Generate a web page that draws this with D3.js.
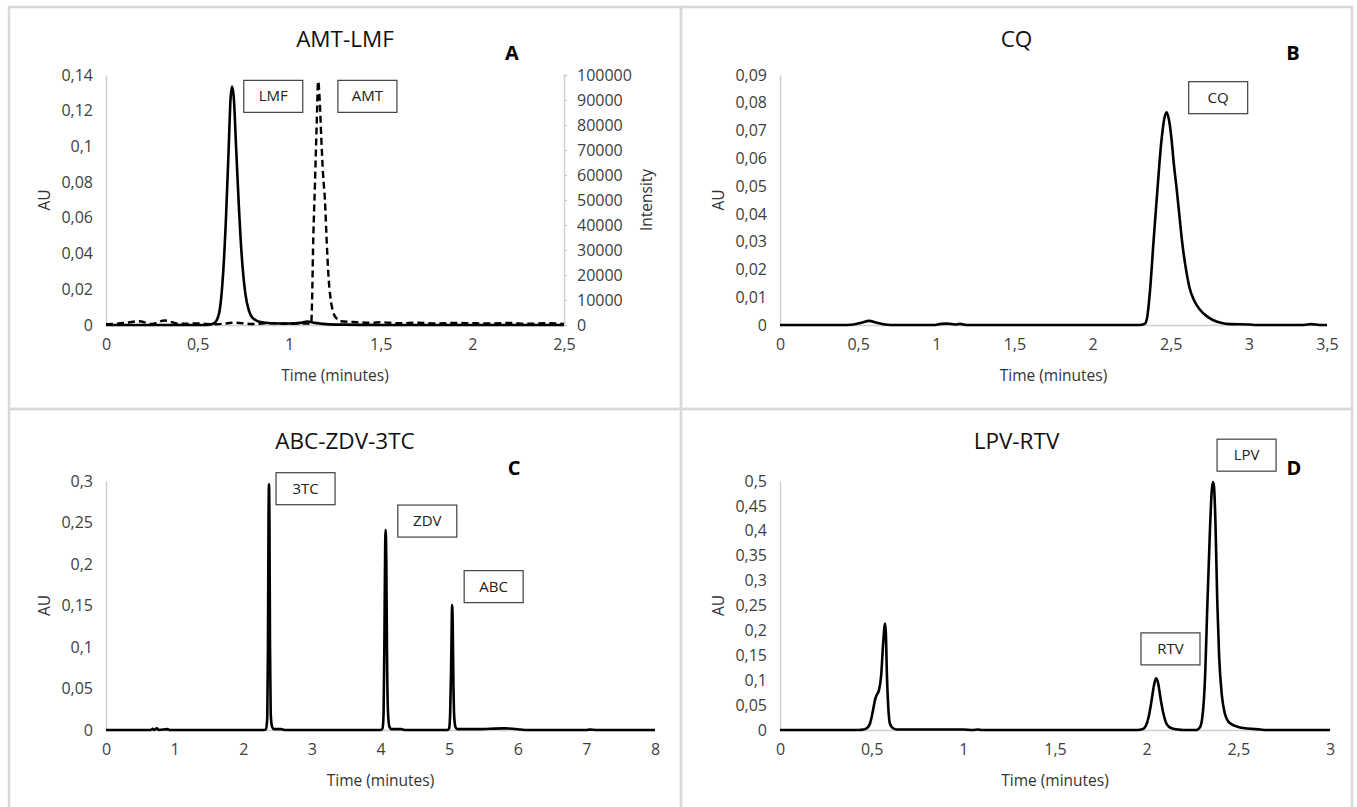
<!DOCTYPE html>
<html>
<head>
<meta charset="utf-8">
<script src="https://cdn.jsdelivr.net/npm/d3@7"></script>
<style>
  body { margin: 0; background: #fff; }
  text { font-family: "Open Sans", "DejaVu Sans", sans-serif; }
  .tick text { font-size: 16px; fill: #404040; }
  .domain { stroke: #d0d0d0; stroke-width: 1.5; }
  .tick line { stroke: #c8c8c8; }
</style>
</head>
<body>
<script>

/*
 * chromatogram traces: [time (min), AU]
 */
var lmfTrace = [
  [0,0],[0.3,0],[0.55,0],[0.58,0.0005],[0.6,0.002],[0.62,0.008],[0.64,0.03],[0.655,0.06],
  [0.67,0.1],[0.68,0.127],[0.688,0.1335],[0.697,0.128],[0.71,0.1],[0.725,0.067],[0.74,0.04],
  [0.76,0.018],[0.78,0.008],[0.8,0.004],[0.85,0.0015],[0.9,0.001],[1.0,0.0008],[1.06,0.0012],
  [1.1,0.002],[1.14,0.0012],[1.2,0.0005],[1.3,0.0002],[1.5,0],[2.5,0]
];
// AMT is on the right axis (intensity)
var amtTrace = [
  [0,300],[0.1,800],[0.18,1500],[0.25,400],[0.32,1800],[0.4,500],[0.5,600],[0.6,300],[0.7,900],
  [0.8,400],[0.9,700],[1.0,500],[1.08,600],[1.12,500],[1.125,10000],[1.13,30000],[1.14,55000],
  [1.15,80000],[1.158,97500],[1.165,92000],[1.175,75000],[1.185,60000],[1.195,50000],[1.205,33000],
  [1.214,20000],[1.225,11000],[1.241,5000],[1.26,2500],[1.28,1500],[1.35,1200],[1.4,1000],[1.45,900],
  [1.5,1100],[1.6,700],[1.7,900],[1.8,600],[1.9,800],[2.0,700],[2.1,600],[2.2,800],[2.3,500],
  [2.4,700],[2.5,400]
];
var cqTrace = [
  [0,0],[0.4,0],[0.47,0.0002],[0.52,0.0008],[0.57,0.0015],[0.62,0.0008],[0.67,0.0002],[0.75,0],
  [0.98,0],[1.03,0.0004],[1.07,0.0005],[1.12,0.0002],[1.15,0.0004],[1.2,0],[2.3,0],[2.335,0.0005],
  [2.35,0.003],[2.367,0.012],[2.39,0.03],[2.414,0.048],[2.44,0.066],[2.458,0.074],[2.474,0.0766],
  [2.49,0.0735],[2.505,0.067],[2.52,0.058],[2.54,0.048],[2.558,0.038],[2.575,0.029],[2.595,0.021],
  [2.62,0.0135],[2.65,0.0088],[2.687,0.0055],[2.73,0.0032],[2.77,0.0018],[2.82,0.0008],[2.88,0.0003],
  [3.0,0.0002],[3.05,0],[3.35,0],[3.4,0.0003],[3.45,0],[3.5,0]
];
var abcZdv3tcTrace = [
  [0,0],[0.65,0],[0.68,0.0015],[0.7,0],[0.74,0.002],[0.77,0],[0.9,0.001],[0.93,0],[2.3,0],
  [2.33,0.001],[2.35,0.015],[2.36,0.1],[2.368,0.25],[2.375,0.296],[2.382,0.25],[2.39,0.1],[2.4,0.02],
  [2.42,0.004],[2.45,0.001],[2.55,0.001],[2.6,0],[4.0,0],[4.03,0.002],[4.045,0.02],[4.058,0.12],
  [4.068,0.22],[4.076,0.241],[4.085,0.2],[4.095,0.09],[4.11,0.02],[4.13,0.004],[4.16,0.001],
  [4.3,0.001],[4.35,0],[4.98,0],[5.0,0.002],[5.015,0.02],[5.028,0.07],[5.038,0.13],[5.044,0.1506],
  [5.052,0.13],[5.062,0.06],[5.075,0.015],[5.095,0.003],[5.12,0.001],[5.4,0.001],[5.8,0.002],
  [6.0,0.001],[6.1,0],[7.0,0],[7.05,0.0005],[7.15,0],[8,0]
];
var lpvRtvTrace = [
  [0,0],[0.43,0],[0.455,0.001],[0.475,0.004],[0.491,0.013],[0.505,0.035],[0.518,0.06],[0.527,0.07],
  [0.54,0.08],[0.552,0.11],[0.562,0.17],[0.573,0.214],[0.578,0.19],[0.582,0.127],[0.59,0.05],
  [0.6,0.012],[0.615,0.004],[0.637,0.001],[0.7,0.001],[1.0,0.001],[1.05,0],[1.08,0.001],[1.1,0],
  [1.95,0],[1.98,0.002],[1.995,0.008],[2.01,0.025],[2.025,0.055],[2.04,0.09],[2.051,0.104],
  [2.062,0.095],[2.075,0.065],[2.09,0.035],[2.105,0.015],[2.12,0.007],[2.14,0.003],[2.17,0.001],
  [2.2,0],[2.27,0],[2.29,0.005],[2.305,0.03],[2.32,0.12],[2.33,0.24],[2.345,0.4],[2.355,0.48],
  [2.361,0.498],[2.367,0.49],[2.375,0.42],[2.385,0.26],[2.395,0.15],[2.41,0.07],[2.425,0.035],
  [2.45,0.015],[2.5,0.006],[2.55,0.003],[2.62,0.001],[2.65,0],[3,0]
];

/*
 * tick labels
 */
var xTicksA = [0, 0.5, 1, 1.5, 2, 2.5];
var yTicksA = [0, 0.02, 0.04, 0.06, 0.08, 0.1, 0.12, 0.14];
var intensityTicks = [0, 10000, 20000, 30000, 40000, 50000, 60000, 70000, 80000, 90000, 100000];
var xTicksB = [0, 0.5, 1, 1.5, 2, 2.5, 3, 3.5];
var yTicksB = [0, 0.01, 0.02, 0.03, 0.04, 0.05, 0.06, 0.07, 0.08, 0.09];
var xTicksC = [0, 1, 2, 3, 4, 5, 6, 7, 8];
var yTicksC = [0, 0.05, 0.1, 0.15, 0.2, 0.25, 0.3];
var xTicksD = [0, 0.5, 1, 1.5, 2, 2.5, 3];
var yTicksD = [0, 0.05, 0.1, 0.15, 0.2, 0.25, 0.3, 0.35, 0.4, 0.45, 0.5];

/*
 * peak name boxes, anchored at the top left corner [time, AU]
 */
var peakLabelsA = [{name: "LMF", t: 0.752, v: 0.137}, {name: "AMT", t: 1.266, v: 0.137}];
var peakLabelsB = [{name: "CQ", t: 2.615, v: 0.0876}];
var peakLabelsC = [{name: "3TC", t: 2.478, v: 0.31}, {name: "ZDV", t: 4.252, v: 0.271}, {name: "ABC", t: 5.219, v: 0.192}];
var peakLabelsD = [{name: "LPV", t: 2.384, v: 0.584}, {name: "RTV", t: 1.969, v: 0.195}];

var panelTitles = ["AMT-LMF", "CQ", "ABC-ZDV-3TC", "LPV-RTV"];
var panelLetters = ["A", "B", "C", "D"];

function comma(v) { return String(v).replace(".", ","); }

var svg = d3.select("body").append("svg")
    .attr("width", 1357)
    .attr("height", 807);

function drawPanel(p) {
	// chart area border
	svg.append("rect")
		.attr("x", p.box[0]).attr("y", p.box[1])
		.attr("width", p.box[2]).attr("height", p.box[3])
		.attr("fill", "none")
		.attr("stroke", "#d9d9d9")
		.attr("stroke-width", 2.5);

	var x = d3.scaleLinear().domain([0, d3.max(p.xTicks)]).range([p.left, p.right]);
	var y = d3.scaleLinear().domain([0, d3.max(p.yTicks)]).range([p.bottom, p.top]);

	var g = svg.append("g");

	g.append("g")
		.attr("transform", "translate(0," + p.bottom + ")")
		.call(d3.axisBottom(x).tickValues(p.xTicks).tickSize(0).tickPadding(14).tickFormat(comma));

	g.append("g")
		.attr("transform", "translate(" + p.left + ",0)")
		.call(d3.axisLeft(y).tickValues(p.yTicks).tickSize(0).tickPadding(13).tickFormat(comma));

	// titles
	var cx = p.box[0] + p.box[2] / 2;
	g.append("text").text(p.title)
		.attr("x", cx).attr("y", p.box[1] + 40)
		.attr("text-anchor", "middle")
		.style("font-size", "22.5px").attr("fill", "#111");
	g.append("text").text(p.letter)
		.attr("x", p.letterX).attr("y", p.box[1] + (p.letterY))
		.attr("text-anchor", "middle")
		.style("font-size", "20px").style("font-weight", "bold").attr("fill", "#000");
	g.append("text").text("Time (minutes)")
		.attr("x", (p.left + p.right) / 2).attr("y", p.bottom + 56)
		.attr("text-anchor", "middle")
		.style("font-size", "15.5px").attr("fill", "#333");
	g.append("text").text("AU")
		.attr("transform", "translate(" + (p.left - 56) + "," + ((p.top + p.bottom) / 2) + ") rotate(-90)")
		.attr("text-anchor", "middle")
		.style("font-size", "15.5px").attr("fill", "#333");

	var line = d3.line()
		.x(function(d) { return x(d[0]); })
		.y(function(d) { return y(d[1]); })
		.curve(d3.curveMonotoneX);

	// second series on the right axis (panel A only)
	if (p.rightTrace) {
		var yR = d3.scaleLinear().domain([0, d3.max(intensityTicks)]).range([p.bottom, p.top]);
		g.append("g")
			.attr("transform", "translate(" + p.right + ",0)")
			.call(d3.axisRight(yR).tickValues(intensityTicks).tickSize(3).tickPadding(10).tickFormat(d3.format("d")));
		g.append("text").text("Intensity")
			.attr("transform", "translate(" + (p.right + 88) + "," + ((p.top + p.bottom) / 2) + ") rotate(-90)")
			.attr("text-anchor", "middle")
			.style("font-size", "15.5px").attr("fill", "#333");

		var lineR = d3.line()
			.x(function(d) { return x(d[0]); })
			.y(function(d) { return yR(d[1]); })
			.curve(d3.curveMonotoneX);
		g.append("path").datum(p.rightTrace)
			.attr("d", lineR)
			.attr("fill", "none")
			.attr("stroke", "#000")
			.attr("stroke-width", 2.4)
			.attr("stroke-dasharray", "7,4");
	}

	g.append("path").datum(p.trace)
		.attr("d", line)
		.attr("fill", "none")
		.attr("stroke", "#000")
		.attr("stroke-width", 2.6)
		.attr("stroke-linejoin", "round");

	// peak name boxes
	var lab = g.selectAll(".peak").data(p.labels).enter().append("g")
		.attr("transform", function(d) { return "translate(" + x(d.t) + "," + y(d.v) + ")"; });
	lab.append("rect")
		.attr("width", 59).attr("height", 32)
		.attr("fill", "#fff")
		.attr("stroke", "#404040")
		.attr("stroke-width", 1.2);
	lab.append("text").text(function(d) { return d.name; })
		.attr("x", 29.5).attr("y", 21)
		.attr("text-anchor", "middle")
		.style("font-size", "15px").attr("fill", "#222");
}

drawPanel({box: [9, 7, 672, 402], left: 106, right: 564, top: 75, bottom: 325,
	xTicks: xTicksA, yTicks: yTicksA, trace: lmfTrace, rightTrace: amtTrace,
	labels: peakLabelsA, title: panelTitles[0], letter: panelLetters[0], letterX: 512, letterY: 53});
drawPanel({box: [681, 7, 671, 402], left: 780, right: 1327, top: 75, bottom: 325,
	xTicks: xTicksB, yTicks: yTicksB, trace: cqTrace,
	labels: peakLabelsB, title: panelTitles[1], letter: panelLetters[1], letterX: 1293, letterY: 53});
drawPanel({box: [9, 409, 672, 410], left: 106, right: 655, top: 481, bottom: 730,
	xTicks: xTicksC, yTicks: yTicksC, trace: abcZdv3tcTrace,
	labels: peakLabelsC, title: panelTitles[2], letter: panelLetters[2], letterX: 514, letterY: 66});
drawPanel({box: [681, 409, 671, 410], left: 780, right: 1330, top: 481, bottom: 730,
	xTicks: xTicksD, yTicks: yTicksD, trace: lpvRtvTrace,
	labels: peakLabelsD, title: panelTitles[3], letter: panelLetters[3], letterX: 1294, letterY: 66});

</script>
</body>
</html>
